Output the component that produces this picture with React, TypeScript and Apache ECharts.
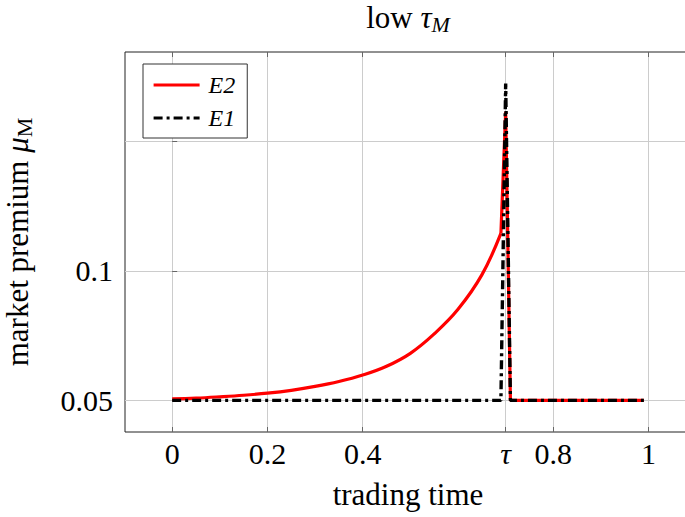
import React, { useEffect, useRef } from "react";
import * as echarts from "echarts";

// ---- data ----
const X_TICKS = [0, 0.2, 0.4, 0.7, 0.8, 1];
const TAU = 0.7;
const Y_TICKS = [0.05, 0.1, 0.15];
const Y_LABELS = [0.05, 0.1];

// E2: smooth rising part up to just before tau, then the spike
const E2_X = [0, 0.05, 0.1, 0.15, 0.2, 0.25, 0.3, 0.35, 0.4, 0.45, 0.5, 0.55, 0.6, 0.65, 0.69, 0.7, 0.71, 0.99];
const E2_Y = [0.0506, 0.0509, 0.0514, 0.052, 0.0528, 0.0539, 0.0554, 0.0573, 0.0598, 0.0632, 0.0682, 0.0757, 0.0852, 0.0985, 0.1145, 0.1615, 0.05, 0.05];
const E2_KINK = 0.69;

const E1_X = [0, 0.69, 0.7, 0.71, 0.99];
const E1_Y = [0.05, 0.05, 0.1724, 0.05, 0.05];

const FONT = "'Liberation Serif', 'Times New Roman', serif";

export default function App() {
  const ref = useRef<HTMLDivElement>(null);
  useEffect(() => {
    if (!ref.current) return;
    const chart = echarts.init(ref.current, undefined, { renderer: "svg" });
    const e2pts = E2_X.map((x, i) => [x, E2_Y[i]]);
    const e2Curve = e2pts.filter((p) => p[0] <= E2_KINK);
    const e2Spike = e2pts.filter((p) => p[0] >= E2_KINK);
    const option: any = {
      animation: false,
      grid: {
        left: 125,
        top: 52,
        width: 566,
        height: 380,
        show: true,
        borderColor: "#222",
        borderWidth: 1,
        backgroundColor: "transparent",
        containLabel: false,
        outerBoundsMode: "none",
      },
      graphic: [
        {
          type: "text",
          x: 408,
          y: 17,
          style: {
            text: "low {t|τ}{s|M}",
            fontFamily: FONT,
            fontSize: 31,
            fill: "#000",
            align: "center",
            verticalAlign: "middle",
            lineHeight: 36,
            rich: {
              t: { fontFamily: FONT, fontSize: 31, fontStyle: "italic", lineHeight: 36 },
              s: { fontFamily: FONT, fontSize: 22, fontStyle: "italic", lineHeight: 22, verticalAlign: "bottom" },
            },
          },
        },
      ],
      legend: {
        data: ["E2", "E1"],
        orient: "vertical",
        left: 143,
        top: 64,
        padding: [9, 12, 8, 9],
        itemGap: 9,
        itemWidth: 46,
        itemHeight: 14,
        backgroundColor: "#fff",
        borderColor: "#333",
        borderWidth: 1,
        borderRadius: 0,
        itemStyle: { opacity: 0 },
        lineStyle: { width: 3.2 },
        textStyle: { fontFamily: FONT, fontSize: 24, fontStyle: "italic", color: "#000", padding: [0, 0, 0, 4] },
        z: 20,
      },
      xAxis: [
        {
          type: "value",
          min: -0.099,
          max: 1.089,
          position: "bottom",
          axisLine: { show: false },
          splitLine: { show: false },
          axisTick: { show: true, inside: true, length: 5, customValues: X_TICKS, lineStyle: { color: "#666" } },
          axisLabel: {
            customValues: X_TICKS,
            formatter: (v: number) => (Math.abs(v - TAU) < 1e-9 ? "{t|τ}" : String(v)),
            fontFamily: FONT,
            fontSize: 30,
            color: "#000",
            margin: 6,
            rich: { t: { fontFamily: FONT, fontSize: 30, fontStyle: "italic", color: "#000" } },
          },
          name: "trading time",
          nameLocation: "middle",
          nameGap: 47,
          nameTextStyle: { fontFamily: FONT, fontSize: 31, color: "#000" },
        },
        {
          type: "value",
          min: -0.099,
          max: 1.089,
          position: "top",
          axisLine: { show: false },
          splitLine: { show: false },
          axisTick: { show: true, inside: true, length: 5, customValues: X_TICKS, lineStyle: { color: "#666" } },
          axisLabel: { show: false },
        },
      ],
      yAxis: {
        type: "value",
        min: 0.0378,
        max: 0.1846,
        axisLine: { show: false },
        splitLine: { show: false },
        axisTick: { show: true, inside: true, length: 5, customValues: Y_TICKS, lineStyle: { color: "#666" } },
        axisLabel: {
          customValues: Y_LABELS,
          formatter: (v: number) => String(v),
          fontFamily: FONT,
          fontSize: 30,
          color: "#000",
          margin: 12,
        },
        name: "market premium {mu|μ}{sub|M}",
        nameLocation: "middle",
        nameGap: 90,
        nameTextStyle: {
          fontFamily: FONT,
          fontSize: 31,
          color: "#000",
          lineHeight: 36,
          rich: {
            mu: { fontFamily: FONT, fontSize: 31, fontStyle: "italic", lineHeight: 36 },
            sub: { fontFamily: FONT, fontSize: 22, lineHeight: 22, verticalAlign: "bottom" },
          },
        },
      },
      series: [
        {
          type: "line",
          data: [],
          silent: true,
          z: 0,
          markLine: {
            silent: true,
            z: 0,
            symbol: ["none", "none"],
            label: { show: false },
            lineStyle: { color: "#cccccc", width: 1, type: "solid" },
            data: [
              ...X_TICKS.map((v) => ({ xAxis: v })),
              ...Y_TICKS.map((v) => ({ yAxis: v })),
            ],
          },
        },
        {
          name: "E2",
          type: "line",
          data: e2Curve,
          smooth: 0.4,
          showSymbol: false,
          symbol: "none",
          lineStyle: { color: "#ff0000", width: 3.2 },
          itemStyle: { color: "#ff0000" },
          z: 8,
        },
        {
          name: "E2",
          type: "line",
          data: e2Spike,
          showSymbol: false,
          symbol: "none",
          lineStyle: { color: "#ff0000", width: 3.2 },
          itemStyle: { color: "#ff0000" },
          z: 8,
        },
        {
          name: "E1",
          type: "line",
          data: E1_X.map((x, i) => [x, E1_Y[i]]),
          showSymbol: false,
          symbol: "none",
          lineStyle: { color: "#000000", width: 3.4, type: [9, 4, 3, 4] },
          itemStyle: { color: "#000000" },
          z: 9,
        },
      ],
    };
    chart.setOption(option);
    return () => chart.dispose();
  }, []);
  return (
    <div
      ref={ref}
      style={{ position: "fixed", left: 0, top: 0, width: 685, height: 517, background: "#fff" }}
    />
  );
}
